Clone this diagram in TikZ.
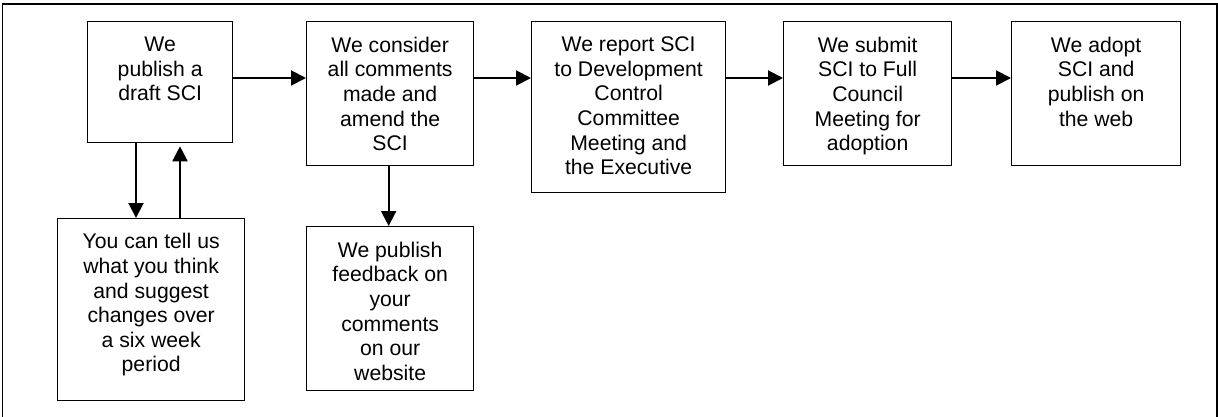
\documentclass[tikz,border=0pt]{standalone}
\usepackage{fontspec}
\setmainfont{Liberation Sans}
\usetikzlibrary{arrows.meta,positioning}

\tikzset{
  stage/.style={draw, line width=1.3pt, anchor=north west, inner sep=0pt},
  stagetext/.style={align=center, inner sep=0pt, font=\fontsize{21.2pt}{24.6pt}\selectfont},
  flow/.style={line width=2pt, -{Triangle[length=15pt,width=15pt]}}
}

\begin{document}
\begin{tikzpicture}[x=1pt,y=-1pt]

  \useasboundingbox (0,0) rectangle (1218,417);

  % outer frame, open at the bottom
  \draw[line width=1.4pt] (2.5,417) -- (2.5,4) -- (1217,4) -- (1217,417);

  \node (draft) at (87,21) [stage, minimum width=145, minimum height=121] {};
  \node (draft-txt) at (draft.north) [below=15.7pt, stagetext] {We\\publish a\\draft SCI};

  \node (consider) at (306,21) [stage, minimum width=167, minimum height=144] {};
  \node (consider-txt) at (consider.north) [below=15.7pt, stagetext] {We consider\\all comments\\made and\\amend the\\SCI};

  \node (report) at (531,21) [stage, minimum width=194, minimum height=171] {};
  \node (report-txt) at (report.north) [below=15.7pt, stagetext] {We report SCI\\to Development\\Control\\Committee\\Meeting and\\the Executive};

  \node (submit) at (783,21) [stage, minimum width=168, minimum height=144] {};
  \node (submit-txt) at (submit.north) [below=15.7pt, stagetext] {We submit\\SCI to Full\\Council\\Meeting for\\adoption};

  \node (adopt) at (1011,21) [stage, minimum width=169, minimum height=144] {};
  \node (adopt-txt) at (adopt.north) [below=15.7pt, stagetext] {We adopt\\SCI and\\publish on\\the web};

  \node (tell) at (57,218) [stage, minimum width=187, minimum height=182] {};
  \node (tell-txt) at (tell.north) [below=15.3pt, stagetext] {You can tell us\\what you think\\and suggest\\changes over\\a six week\\period};

  \node (feedback) at (306,226) [stage, minimum width=167, minimum height=164] {};
  \node (feedback-txt) at (feedback.north) [below=15.7pt, stagetext] {We publish\\feedback on\\your\\comments\\on our\\website};

  % main sequence
  \draw[flow] ([yshift=-57pt]draft.north east) -- ([yshift=-57pt]consider.north west);
  \draw[flow] ([yshift=-57pt]consider.north east) -- ([yshift=-57pt]report.north west);
  \draw[flow] ([yshift=-57pt]report.north east) -- ([yshift=-57pt]submit.north west);
  \draw[flow] ([yshift=-57pt]submit.north east) -- ([yshift=-57pt]adopt.north west);

  % consultation loop
  \draw[flow] ([xshift=49pt]draft.south west) -- ([xshift=79pt]tell.north west);
  \draw[flow] ([xshift=123pt]tell.north west) -- ([xshift=93pt,yshift=-3pt]draft.south west);

  \draw[flow] ([xshift=-1.5pt]consider.south) -- ([xshift=-1.5pt]feedback.north);

\end{tikzpicture}
\end{document}
